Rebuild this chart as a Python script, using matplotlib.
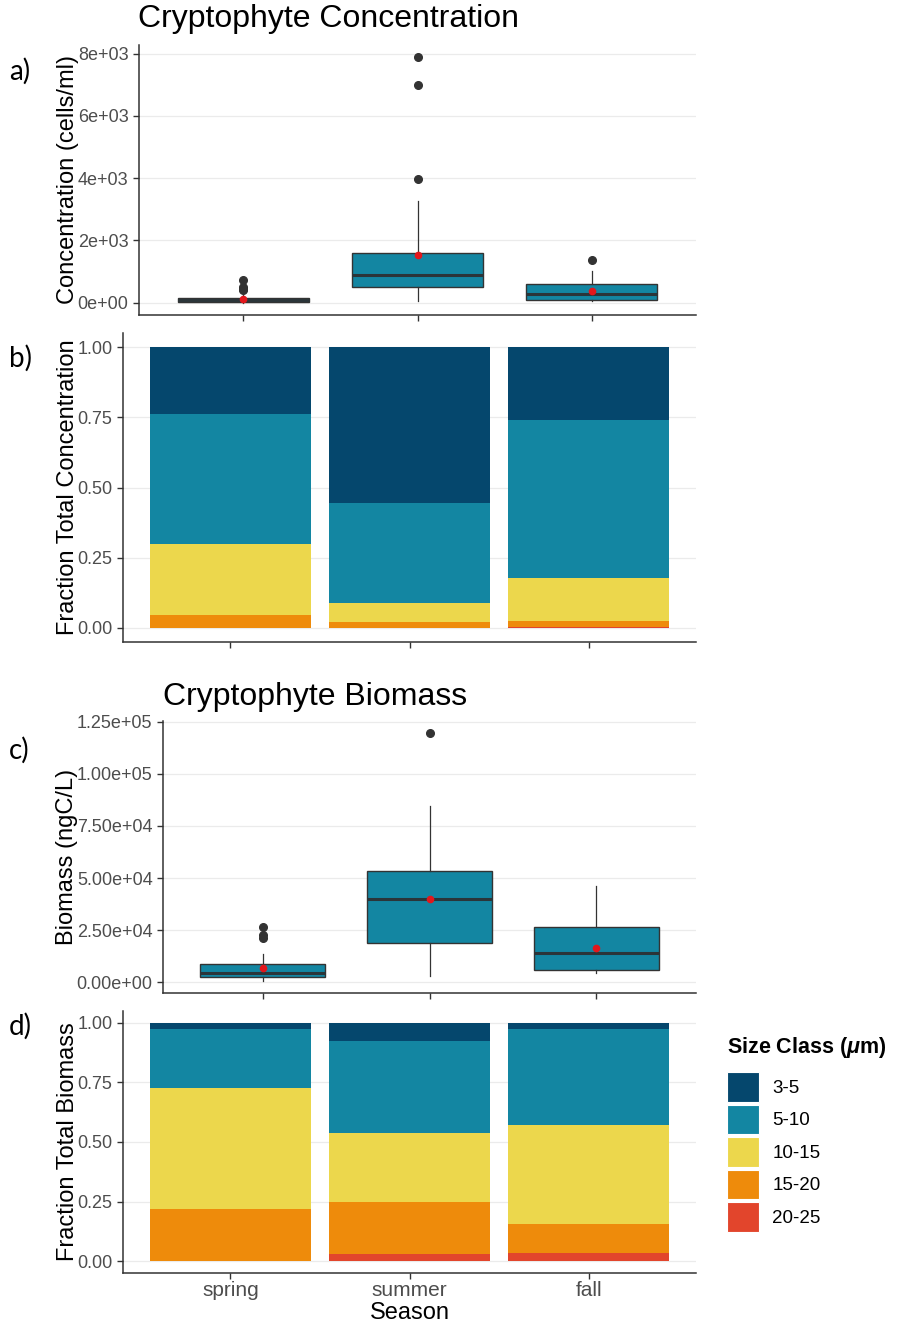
# cryptophyte concentration / biomass by season, with size-class fractions

import matplotlib.pyplot as plt
from matplotlib.patches import Patch

seasons = ['spring', 'summer', 'fall']
size_classes = ['3-5', '5-10', '10-15', '15-20', '20-25']
class_colors = ['#05476D', '#1386A2', '#ECD74C', '#EE8B0B', '#E2452C']

# box stats, cells/ml
conc_q1 = [20, 510, 100]
conc_med = [80, 875, 270]
conc_q3 = [160, 1610, 615]
conc_whislo = [0, 65, 40]
conc_whishi = [300, 3260, 1010]
conc_mean = [130, 1520, 390]
conc_fliers = [[400, 450, 520, 740], [3980, 7000, 7880], [1370]]
conc_ticks = [0, 2000, 4000, 6000, 8000]
conc_ticklabels = ['0e+00', '2e+03', '4e+03', '6e+03', '8e+03']

# box stats, ngC/L
bio_q1 = [2700, 18700, 5900]
bio_med = [4600, 40100, 13900]
bio_q3 = [8600, 53200, 26700]
bio_whislo = [800, 3000, 4300]
bio_whishi = [13600, 84500, 46300]
bio_mean = [6700, 40100, 16300]
bio_fliers = [[21300, 22800, 26600], [119400], []]
bio_ticks = [0, 25000, 50000, 75000, 100000, 125000]
bio_ticklabels = ['0.00e+00', '2.50e+04', '5.00e+04', '7.50e+04', '1.00e+05', '1.25e+05']

# fraction of total per size class (3-5, 5-10, 10-15, 15-20, 20-25)
frac_conc = {
    'spring': [0.237, 0.464, 0.252, 0.047, 0.0],
    'summer': [0.556, 0.356, 0.067, 0.021, 0.0],
    'fall':   [0.260, 0.562, 0.152, 0.024, 0.002],
}
frac_bio = {
    'spring': [0.025, 0.249, 0.506, 0.220, 0.0],
    'summer': [0.077, 0.386, 0.288, 0.221, 0.028],
    'fall':   [0.024, 0.406, 0.413, 0.122, 0.035],
}
frac_ticks = [0, 0.25, 0.5, 0.75, 1.0]
frac_ticklabels = ['0.00', '0.25', '0.50', '0.75', '1.00']

W, H = 900, 1322
plt.rcParams['font.family'] = ['Liberation Sans', 'DejaVu Sans']
plt.rcParams['mathtext.fontset'] = 'custom'
plt.rcParams['mathtext.it'] = 'Liberation Sans:italic:bold'

fig = plt.figure(figsize=(W / 100, H / 100), dpi=100)


def px_axes(left, top, right, bottom):
    return fig.add_axes([left / W, 1 - bottom / H, (right - left) / W, (bottom - top) / H])


def style(ax, ticks, ticklabels, ylabel, xlabels=False):
    for s in ['top', 'right']:
        ax.spines[s].set_visible(False)
    for s in ['left', 'bottom']:
        ax.spines[s].set_color('#333333')
        ax.spines[s].set_linewidth(1.1)
    ax.set_yticks(ticks)
    ax.set_yticklabels(ticklabels)
    ax.set_xticks([1, 2, 3])
    ax.set_xticklabels(seasons if xlabels else [])
    ax.set_xlim(0.4, 3.6)
    ax.tick_params(colors='#333333', labelcolor='#4D4D4D', labelsize=13, length=4, width=1)
    ax.tick_params(axis='x', labelsize=15, pad=2)
    ax.yaxis.grid(True, color='#EBEBEB', lw=0.9)
    ax.set_axisbelow(True)
    ax.set_ylabel(ylabel, fontsize=17, color='black', labelpad=-1)


def boxes(ax, q1, med, q3, lo, hi, mean, fliers):
    stats = []
    for i in range(3):
        stats.append(dict(q1=q1[i], med=med[i], q3=q3[i], whislo=lo[i], whishi=hi[i],
                          mean=mean[i], fliers=fliers[i]))
    ax.bxp(stats, positions=[1, 2, 3], widths=0.75, patch_artist=True,
           showmeans=True, showcaps=False,
           boxprops=dict(facecolor='#1386A2', edgecolor='#333333', lw=1),
           medianprops=dict(color='#2B3539', lw=2.2),
           whiskerprops=dict(color='#333333', lw=0.9),
           flierprops=dict(marker='o', markerfacecolor='#333333', markeredgecolor='#333333', markersize=5.5),
           meanprops=dict(marker='o', markerfacecolor='#E3171C', markeredgecolor='#E3171C', markersize=4.5))
    allv = [v for f in fliers for v in f] + lo + hi
    span = max(allv) - min(allv)
    ax.set_ylim(min(allv) - 0.05 * span, max(allv) + 0.05 * span)


def stacks(ax, fracs):
    for j, season in enumerate(seasons):
        bottom = 0.0
        # stack from the largest size class at the bottom
        for k in range(len(size_classes) - 1, -1, -1):
            v = fracs[season][k]
            if v > 0:
                ax.bar(j + 1, v, bottom=bottom, width=0.9, color=class_colors[k], lw=0)
            bottom += v
    ax.set_ylim(-0.05, 1.05)


# a) concentration boxplot
ax_a = px_axes(139, 45, 696, 315)
boxes(ax_a, conc_q1, conc_med, conc_q3, conc_whislo, conc_whishi, conc_mean, conc_fliers)
style(ax_a, conc_ticks, conc_ticklabels, 'Concentration (cells/ml)')

# b) fraction of concentration
ax_b = px_axes(123, 333, 696, 642)
stacks(ax_b, frac_conc)
style(ax_b, frac_ticks, frac_ticklabels, 'Fraction Total Concentration')

# c) biomass boxplot
ax_c = px_axes(163, 721, 696, 993)
boxes(ax_c, bio_q1, bio_med, bio_q3, bio_whislo, bio_whishi, bio_mean, bio_fliers)
style(ax_c, bio_ticks, bio_ticklabels, 'Biomass (ngC/L)')

# d) fraction of biomass
ax_d = px_axes(123, 1011, 696, 1273)
stacks(ax_d, frac_bio)
style(ax_d, frac_ticks, frac_ticklabels, 'Fraction Total Biomass', xlabels=True)
ax_d.set_xlabel('Season', fontsize=17, labelpad=1)

fig.text(138 / W, 1 - 19 / H, 'Cryptophyte Concentration', fontsize=23, va='center', ha='left')
fig.text(163 / W, 1 - 697 / H, 'Cryptophyte Biomass', fontsize=23, va='center', ha='left')

for lab, y in [('a)', 71), ('b)', 358), ('c)', 750), ('d)', 1026)]:
    fig.text(9 / W, 1 - y / H, lab, fontsize=20, family='Lato', va='center', ha='left')

# legend for size classes, title set separately
fig.text(727 / W, 1 - 1048 / H, r'Size Class ($\mathit{\mu}$m)', fontsize=15.5,
         weight='bold', va='center', ha='left')
handles = [Patch(facecolor=c, edgecolor='white', lw=0.8) for c in class_colors]
leg = fig.legend(handles, size_classes, loc='upper left', bbox_to_anchor=(718 / W, 1 - 1063 / H),
                 frameon=False, fontsize=13.5,
                 handlelength=1.7, handleheight=2.05, labelspacing=0.15,
                 handletextpad=0.7, borderpad=0, alignment='left')

fig.savefig('out.png', dpi=100)
